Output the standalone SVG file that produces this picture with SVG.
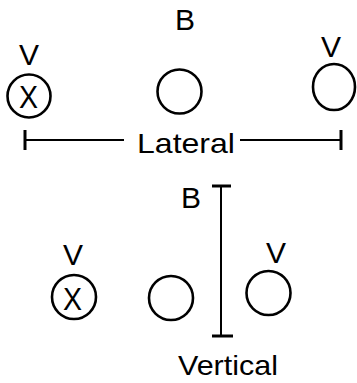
<svg xmlns="http://www.w3.org/2000/svg" width="357" height="383" viewBox="0 0 357 383">
  <style>
    .ring { fill: none; stroke: #000; stroke-width: 2.6; }
    .rule { fill: none; stroke: #000; stroke-width: 2; }
    .cap { fill: none; stroke: #000; stroke-width: 3; }
    text { font-family: "Liberation Sans", Arial, sans-serif; fill: #000; }
    .lbl { font-size: 30px; text-anchor: middle; }
    .mark { font-size: 32px; text-anchor: middle; }
    .cap-lbl { font-size: 28px; }
  </style>
  <rect width="357" height="383" fill="#fff"/>

  <!-- top row -->
  <g id="top-ball">
    <text class="lbl" x="185" y="30">B</text>
  </g>
  <g id="top-left">
    <text class="lbl" x="29" y="65">V</text>
    <circle class="ring" cx="29" cy="96" r="21.5"/>
    <text class="mark" x="28.5" y="108" textLength="19" lengthAdjust="spacingAndGlyphs">X</text>
  </g>
  <g id="top-mid">
    <circle class="ring" cx="179.5" cy="91.5" r="22"/>
  </g>
  <g id="top-right">
    <text class="lbl" x="331" y="57">V</text>
    <ellipse class="ring" cx="334" cy="87" rx="21" ry="23"/>
  </g>

  <!-- bottom row -->
  <g id="bottom-ball">
    <text class="lbl" x="191" y="208">B</text>
  </g>
  <g id="bottom-left">
    <text class="lbl" x="73" y="265">V</text>
    <circle class="ring" cx="74" cy="297" r="22"/>
    <text class="mark" x="72.5" y="310" textLength="19" lengthAdjust="spacingAndGlyphs">X</text>
  </g>
  <g id="bottom-mid">
    <circle class="ring" cx="171" cy="298" r="22"/>
  </g>
  <g id="bottom-right">
    <text class="lbl" x="276" y="263">V</text>
    <circle class="ring" cx="268.5" cy="293" r="22"/>
  </g>

  <!-- measurement lines -->
  <g id="connectors">
    <g id="lateral">
      <line class="rule" x1="25" y1="140" x2="124" y2="140"/>
      <line class="rule" x1="240" y1="140" x2="341" y2="140"/>
      <line class="cap" x1="25" y1="130" x2="25" y2="150"/>
      <line class="cap" x1="341" y1="130" x2="341" y2="150"/>
      <text class="cap-lbl" x="137" y="153" textLength="98" lengthAdjust="spacingAndGlyphs">Lateral</text>
    </g>
    <g id="vertical">
      <line class="rule" x1="221" y1="185" x2="221" y2="337"/>
      <line class="cap" x1="212" y1="186" x2="231" y2="186"/>
      <line class="cap" x1="212" y1="336" x2="233" y2="336"/>
      <text class="cap-lbl" x="178" y="375" textLength="100" lengthAdjust="spacingAndGlyphs">Vertical</text>
    </g>
  </g>
</svg>
